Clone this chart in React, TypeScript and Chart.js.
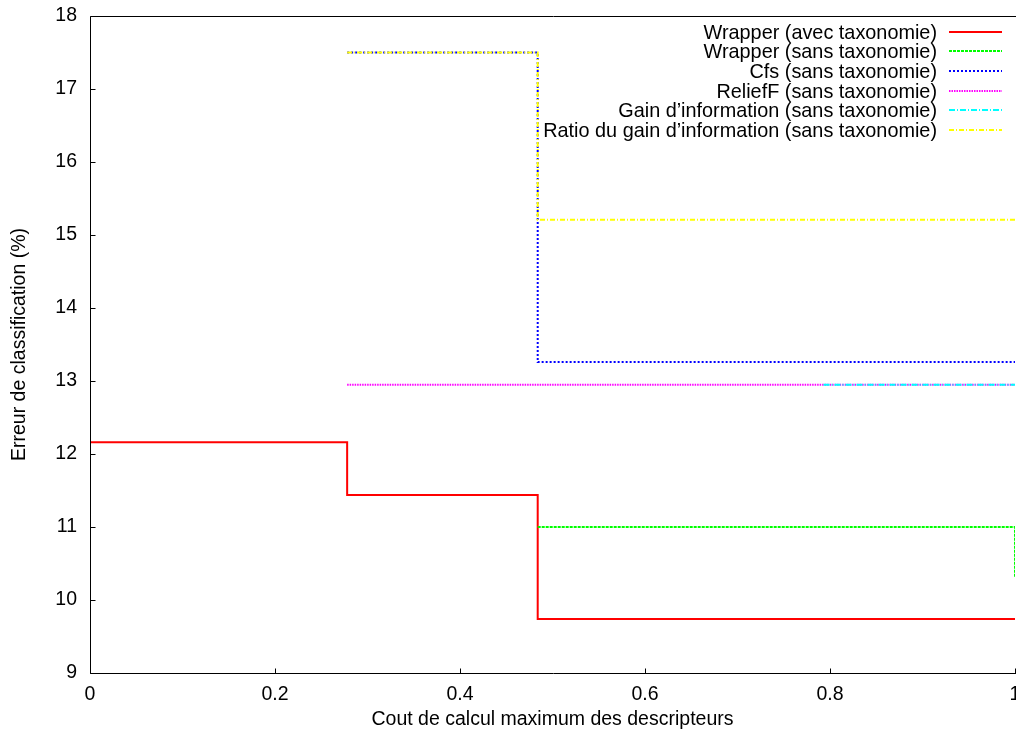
import React, { useEffect, useRef } from "react";
import { Chart, registerables } from "chart.js";

Chart.register(...registerables);

const FONT = '"Liberation Sans", Arial, Helvetica, sans-serif';
const FONT_SIZE = 19.5;
const KEY_FONT_SIZE = 19.85;

// Series names, in plot order
const seriesLabels = [
  "Wrapper (avec taxonomie)",
  "Wrapper (sans taxonomie)",
  "Cfs (sans taxonomie)",
  "ReliefF (sans taxonomie)",
  "Gain d’information (sans taxonomie)",
  "Ratio du gain d’information (sans taxonomie)",
];

// Maximum feature cost (x) and classification error in % (y), one pair of arrays per series
const wrapperAvecCost = [0, 0.278, 0.484, 1];
const wrapperAvecErr = [12.16, 11.44, 9.74, 9.74];

const wrapperSansCost = [0.484, 1];
const wrapperSansErr = [11.0, 10.32];

const cfsCost = [0.278, 0.484, 1];
const cfsErr = [17.5, 13.26, 13.26];

const reliefCost = [0.278, 1];
const reliefErr = [12.95, 12.95];

const gainCost = [0.793, 1];
const gainErr = [12.95, 12.95];

const ratioCost = [0.278, 0.484, 1];
const ratioErr = [17.5, 15.21, 15.21];

// Axis ticks
const xTickValues = [0, 0.2, 0.4, 0.6, 0.8, 1];
const yTickValues = [9, 10, 11, 12, 13, 14, 15, 16, 17, 18];

// Line styles
const seriesColors = ["#ff0000", "#00ff00", "#0000ff", "#ff00ff", "#00ffff", "#ffff00"];
const seriesDashes: number[][] = [[], [3, 1], [2, 2], [1.5, 1], [6, 2, 1, 2], [5, 2, 1, 2]];

const seriesCosts = [wrapperAvecCost, wrapperSansCost, cfsCost, reliefCost, gainCost, ratioCost];
const seriesErrs = [wrapperAvecErr, wrapperSansErr, cfsErr, reliefErr, gainErr, ratioErr];

// Frame (left, bottom, top) with inward tick marks
const framePlugin = {
  id: "frame",
  afterDatasetsDraw(chart: any) {
    const { ctx, chartArea } = chart;
    const xs = chart.scales.x;
    const ys = chart.scales.y;
    const l = Math.round(chartArea.left) + 0.5;
    const r = Math.round(chartArea.right) + 0.5;
    const t = Math.round(chartArea.top) + 0.5;
    const b = Math.round(chartArea.bottom) + 0.5;
    ctx.save();
    ctx.strokeStyle = "#000";
    ctx.lineWidth = 1;
    ctx.setLineDash([]);
    ctx.beginPath();
    ctx.moveTo(l, t);
    ctx.lineTo(r + 1, t);
    ctx.moveTo(l, t);
    ctx.lineTo(l, b);
    ctx.lineTo(r + 1, b);
    const tick = 5;
    for (const v of xTickValues) {
      const px = Math.round(xs.getPixelForValue(v)) + 0.5;
      ctx.moveTo(px, b);
      ctx.lineTo(px, b - tick);
    }
    for (const v of yTickValues) {
      const py = Math.round(ys.getPixelForValue(v)) + 0.5;
      ctx.moveTo(l, py);
      ctx.lineTo(l + tick, py);
    }
    ctx.stroke();
    ctx.restore();
  },
};

// Key in the top-right corner: right-aligned names followed by a line sample
const keyPlugin = {
  id: "key",
  afterDraw(chart: any) {
    const { ctx } = chart;
    const textRight = 937;
    const sampleStart = 949;
    const sampleEnd = 1002;
    const firstY = 31.7;
    const rowStep = 19.65;
    ctx.save();
    ctx.font = `${KEY_FONT_SIZE}px ${FONT}`;
    ctx.textAlign = "right";
    ctx.textBaseline = "alphabetic";
    chart.data.datasets.forEach((ds: any, i: number) => {
      const y = firstY + i * rowStep;
      ctx.fillStyle = "#000";
      ctx.fillText(ds.label, textRight, y + 0.358 * KEY_FONT_SIZE);
      ctx.strokeStyle = ds.borderColor;
      ctx.lineWidth = ds.borderWidth;
      ctx.setLineDash(ds.borderDash || []);
      ctx.beginPath();
      ctx.moveTo(sampleStart, Math.round(y));
      ctx.lineTo(sampleEnd, Math.round(y));
      ctx.stroke();
    });
    ctx.restore();
  },
};

export default function App() {
  const canvasRef = useRef<HTMLCanvasElement | null>(null);

  useEffect(() => {
    const canvas = canvasRef.current;
    if (!canvas) return;
    Chart.defaults.font.family = FONT;
    Chart.defaults.color = "#000";

    const datasets = seriesLabels.map((label, i) => ({
      label,
      data: seriesCosts[i].map((c, j) => ({ x: c, y: seriesErrs[i][j] })),
      borderColor: seriesColors[i],
      backgroundColor: seriesColors[i],
      borderWidth: 2,
      borderDash: seriesDashes[i],
      pointRadius: 0,
      stepped: "before" as const,
      fill: false,
      order: -i,
    }));

    const chart = new Chart(canvas, {
      type: "line",
      data: { datasets },
      options: {
        responsive: false,
        animation: false,
        devicePixelRatio: 1,
        events: [],
        layout: { padding: { top: 16, right: 1, bottom: 0, left: 0 } },
        plugins: {
          legend: { display: false },
          tooltip: { enabled: false },
        },
        scales: {
          x: {
            type: "linear",
            min: 0,
            max: 1,
            grid: { display: false, drawTicks: false },
            border: { display: false },
            afterBuildTicks: (s: any) => {
              s.ticks = xTickValues.map((v) => ({ value: v }));
            },
            afterFit: (s: any) => {
              s.height = 62;
              s.paddingLeft = 0;
              s.paddingRight = 0;
            },
            ticks: {
              font: { size: FONT_SIZE },
              color: "#000",
              padding: 10,
              maxRotation: 0,
              autoSkip: false,
              callback: (v: any) => String(Number(Number(v).toFixed(1))),
            },
            title: {
              display: true,
              text: "Cout de calcul maximum des descripteurs",
              font: { size: FONT_SIZE },
              color: "#000",
              padding: { top: 0, bottom: 4 },
            },
          },
          y: {
            type: "linear",
            min: 9,
            max: 18,
            grid: { display: false, drawTicks: false },
            border: { display: false },
            afterBuildTicks: (s: any) => {
              s.ticks = yTickValues.map((v) => ({ value: v }));
            },
            afterFit: (s: any) => {
              s.width = 90;
              s.paddingTop = 0;
              s.paddingBottom = 0;
            },
            ticks: {
              font: { size: FONT_SIZE },
              color: "#000",
              padding: 13,
              autoSkip: false,
              callback: (v: any) => String(v),
            },
            title: {
              display: true,
              text: "Erreur de classification (%)",
              font: { size: FONT_SIZE },
              color: "#000",
              padding: { top: 8, bottom: 0 },
            },
          },
        },
      },
      plugins: [framePlugin, keyPlugin],
    });

    return () => chart.destroy();
  }, []);

  return (
    <div style={{ position: "fixed", left: 0, top: 0, width: 1016, height: 735, background: "#fff" }}>
      <canvas ref={canvasRef} width={1016} height={735} style={{ display: "block" }} />
    </div>
  );
}
